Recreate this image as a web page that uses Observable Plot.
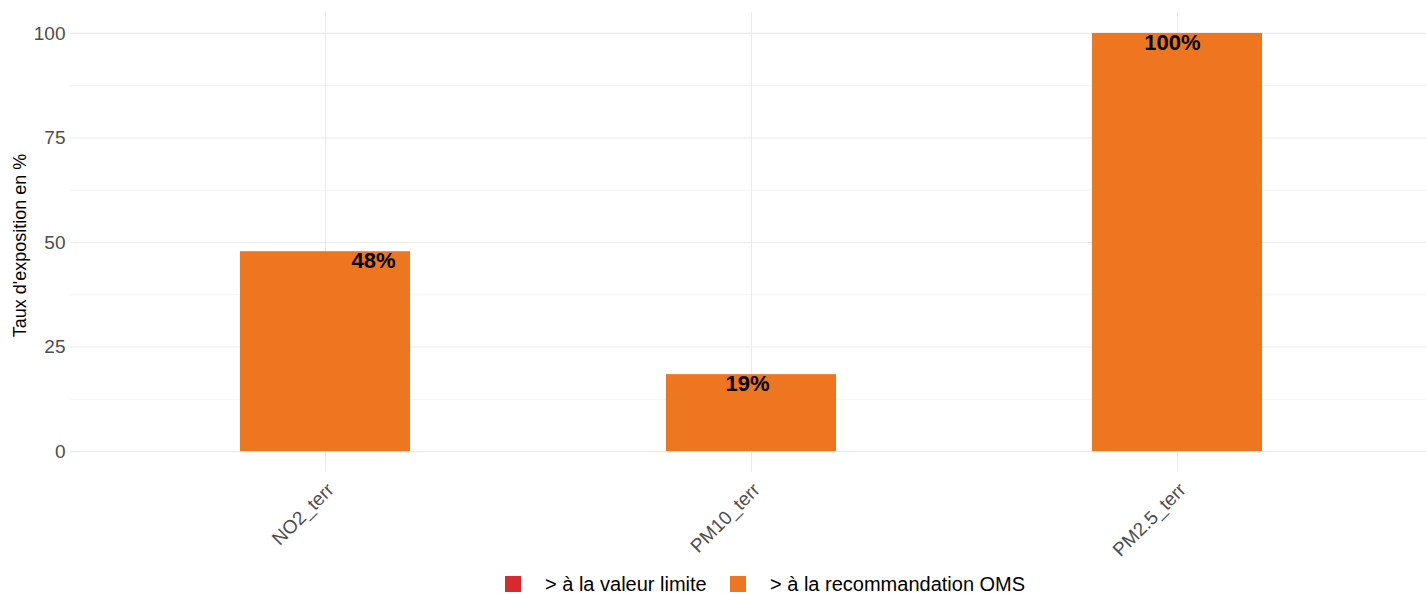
<!DOCTYPE html>
<html>
<head>
<meta charset="utf-8">
<script src="https://cdn.jsdelivr.net/npm/d3@7"></script>
<script src="https://cdn.jsdelivr.net/npm/@observablehq/plot@0.6"></script>
<style>
  html, body { margin: 0; padding: 0; background: #fff; }
  body { width: 1426px; height: 594px; overflow: hidden; font-family: "Liberation Sans", Arial, sans-serif; }
  #legend { position: relative; height: 32px; }
  .item { position: absolute; top: 14px; display: flex; align-items: center; height: 16px; font-size: 20px; color: #000; white-space: nowrap; }
  .key { width: 16px; height: 16px; margin-right: 24px; }
</style>
</head>
<body>
<div id="chart"></div>
<div id="legend"></div>
<script>
// ---- data ----
const categories = ["NO2_terr", "PM10_terr", "PM2.5_terr"];
const exposure = [47.8, 18.4, 100];
const valueLabels = ["48%", "19%", "100%"];
const yTicks = [0, 25, 50, 75, 100];
const yMinorTicks = [12.5, 37.5, 62.5, 87.5];
const seriesNames = ["> à la valeur limite", "> à la recommandation OMS"];
const seriesColors = ["#d62a2e", "#ee7621"];
const yTitle = "Taux d'exposition en %";

const rows = categories.map((c, i) => ({category: c, value: exposure[i], label: valueLabels[i]}));

// label nudges (layout only)
const labelNudge = {"NO2_terr": 48, "PM10_terr": -4, "PM2.5_terr": -5};

const font = "Liberation Sans, Arial, sans-serif";

const chart = Plot.plot({
  width: 1426,
  height: 562,
  marginLeft: 70,
  marginRight: 0,
  marginTop: 12,
  marginBottom: 90,
  style: {fontFamily: font, background: "#fff"},
  x: {type: "band", domain: categories, paddingInner: 0.6, paddingOuter: 0.39, align: 0.511, axis: null},
  y: {domain: [-5, 105], axis: null},
  marks: [
    Plot.gridY(yMinorTicks, {stroke: "#ebebeb", strokeOpacity: 1, strokeWidth: 0.55}),
    Plot.gridY(yTicks, {stroke: "#ebebeb", strokeOpacity: 1, strokeWidth: 1.07}),
    Plot.gridX(categories, {stroke: "#ebebeb", strokeOpacity: 1, strokeWidth: 1.07}),
    Plot.barY(rows, {x: "category", y1: 0, y2: "value", fill: seriesColors[1]}),
    ...categories.map(c => Plot.text(rows.filter(r => r.category === c), {
      x: "category", y: "value", text: "label",
      fontSize: 22, fontWeight: "bold", fill: "#000",
      lineAnchor: "top", dy: 1, dx: labelNudge[c]
    })),
    Plot.axisY(yTicks, {tickSize: 0, tickPadding: 5, fontSize: 19, fill: "#4d4d4d", label: null}),
    Plot.text(categories, {
      x: d => d, frameAnchor: "bottom", text: d => d,
      rotate: -45, textAnchor: "end", lineAnchor: "top",
      dy: 9, dx: 0, fontSize: 19, fill: "#4d4d4d"
    }),
    Plot.text([yTitle], {
      frameAnchor: "left", dx: -50, rotate: -90, dy: 3, text: d => d,
      fontSize: 18, fill: "#000", textAnchor: "middle", lineAnchor: "middle"
    })
  ]
});
document.getElementById("chart").appendChild(chart);

// legend
const legend = document.getElementById("legend");
const legendLefts = [505, 730];
seriesNames.forEach((name, i) => {
  const item = document.createElement("div");
  item.className = "item";
  item.style.left = legendLefts[i] + "px";
  const key = document.createElement("span");
  key.className = "key";
  key.style.background = seriesColors[i];
  const txt = document.createElement("span");
  txt.textContent = name;
  item.appendChild(key);
  item.appendChild(txt);
  legend.appendChild(item);
});
</script>
</body>
</html>
